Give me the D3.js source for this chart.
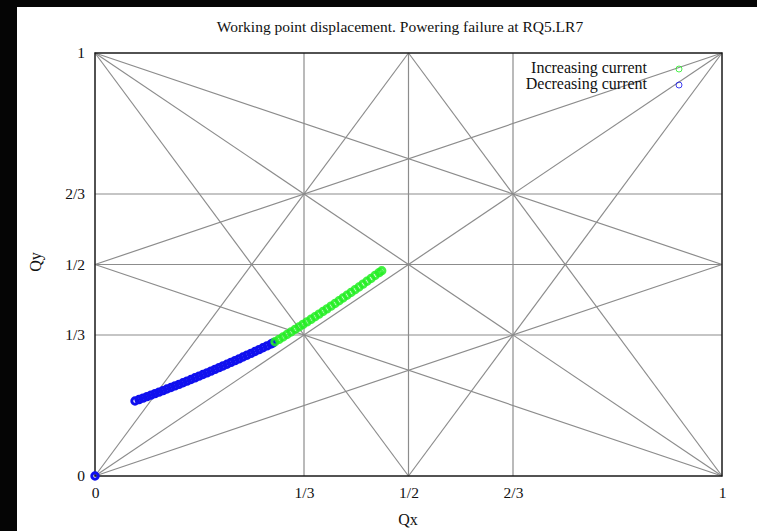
<!DOCTYPE html>
<html>
<head>
<meta charset="utf-8">
<script src="https://cdn.jsdelivr.net/npm/d3@7"></script>
<style>
  html, body { margin: 0; padding: 0; background: #fff; }
  svg { display: block; font-family: "Liberation Serif", "DejaVu Serif", serif; }
</style>
</head>
<body>
<svg id="chart" width="757" height="531"></svg>
<script>
// Tune-diagram ticks
const tickValues = [0, 1/3, 1/2, 2/3, 1];
const tickLabels = ["0", "1/3", "1/2", "2/3", "1"];

// Resonance lines m*Qx + n*Qy = p (orders 2 and 3)
const resM = [2, 0, 1, 1, 3, 3, 0, 0, 2, 2, 1, 1, 2, 2, 1, 1];
const resN = [0, 2, 1, -1, 0, 0, 3, 3, 1, 1, 2, 2, -1, -1, -2, -2];
const resP = [1, 1, 1, 0, 1, 2, 1, 2, 1, 2, 1, 2, 0, 1, 0, -1];

// Decreasing current: working point positions
const decQx = [0,
  0.0638, 0.0702, 0.0766, 0.0829, 0.0893, 0.0957, 0.1021, 0.1085, 0.1148, 0.1212,
  0.1276, 0.1340, 0.1404, 0.1467, 0.1531, 0.1595, 0.1659, 0.1722, 0.1786, 0.1850,
  0.1914, 0.1978, 0.2041, 0.2105, 0.2169, 0.2233, 0.2297, 0.2360, 0.2424, 0.2488,
  0.2552, 0.2616, 0.2679, 0.2743, 0.2807, 0.2839];
const decQy = [0,
  0.1773, 0.1807, 0.1842, 0.1877, 0.1912, 0.1947, 0.1983, 0.2019, 0.2056, 0.2093,
  0.2130, 0.2167, 0.2205, 0.2244, 0.2282, 0.2321, 0.2360, 0.2400, 0.2439, 0.2479,
  0.2520, 0.2561, 0.2602, 0.2643, 0.2685, 0.2727, 0.2770, 0.2813, 0.2856, 0.2899,
  0.2943, 0.2987, 0.3031, 0.3076, 0.3121, 0.3144];

// Increasing current: working point positions
const incQx = [
  0.2871, 0.2935, 0.2998, 0.3062, 0.3126, 0.3190, 0.3254, 0.3317, 0.3381, 0.3445,
  0.3509, 0.3573, 0.3636, 0.3700, 0.3764, 0.3828, 0.3892, 0.3955, 0.4019, 0.4083,
  0.4147, 0.4211, 0.4274, 0.4338, 0.4402, 0.4466, 0.4530, 0.4573];
const incQy = [
  0.3173, 0.3230, 0.3287, 0.3346, 0.3404, 0.3463, 0.3522, 0.3583, 0.3643, 0.3704,
  0.3765, 0.3827, 0.3889, 0.3952, 0.4015, 0.4078, 0.4142, 0.4207, 0.4272, 0.4337,
  0.4403, 0.4469, 0.4536, 0.4603, 0.4670, 0.4739, 0.4807, 0.4853];

const seriesNames = ["Increasing current", "Decreasing current"];
const seriesColors = ["#22ee22", "#1010ee"];

const svg = d3.select("#chart");
const W = 757, H = 531;
const x = d3.scaleLinear().domain([0, 1]).range([95, 722]);
const y = d3.scaleLinear().domain([0, 1]).range([476, 53]);

svg.append("rect").attr("width", W).attr("height", H).attr("fill", "#fff");
// dark page edges
svg.append("rect").attr("x", 0).attr("y", 0).attr("width", 17).attr("height", H).attr("fill", "#050505");
svg.append("rect").attr("x", 0).attr("y", 0).attr("width", W).attr("height", 7).attr("fill", "#050505");

// Clip a resonance line to the unit square
function segment(m, n, p) {
  const pts = [];
  const add = (a, b) => {
    if (a >= -1e-9 && a <= 1 + 1e-9 && b >= -1e-9 && b <= 1 + 1e-9) {
      if (!pts.some(q => Math.abs(q[0] - a) < 1e-9 && Math.abs(q[1] - b) < 1e-9)) pts.push([a, b]);
    }
  };
  if (n !== 0) { add(0, p / n); add(1, (p - m) / n); }
  if (m !== 0) { add(p / m, 0); add((p - n) / m, 1); }
  return pts.length >= 2 ? [pts[0], pts[1]] : null;
}

const lines = resM.map((m, i) => segment(m, resN[i], resP[i])).filter(s => s);
svg.append("g").selectAll("line").data(lines).join("line")
  .attr("x1", d => x(d[0][0])).attr("y1", d => y(d[0][1]))
  .attr("x2", d => x(d[1][0])).attr("y2", d => y(d[1][1]))
  .attr("stroke", "#8c8c8c").attr("stroke-width", 1.2);

// Frame
svg.append("rect")
  .attr("x", x(0)).attr("y", y(1))
  .attr("width", x(1) - x(0)).attr("height", y(0) - y(1))
  .attr("fill", "none").attr("stroke", "#1a1a1a").attr("stroke-width", 1.5);

// Axes
const fmt = (d) => tickLabels[tickValues.indexOf(d)];
const xAxis = svg.append("g").attr("transform", `translate(0,${y(0)})`)
  .call(d3.axisBottom(x).tickValues(tickValues).tickFormat(fmt).tickSize(0).tickPadding(11));
const yAxis = svg.append("g").attr("transform", `translate(${x(0)},0)`)
  .call(d3.axisLeft(y).tickValues(tickValues).tickFormat(fmt).tickSize(0).tickPadding(10));
[xAxis, yAxis].forEach(g => {
  g.select(".domain").remove();
  g.selectAll("text").attr("font-family", "Liberation Serif, serif").attr("font-size", 15.5).attr("fill", "#111");
});

// Data points
const decData = decQx.map((v, i) => [v, decQy[i]]);
const incData = incQx.map((v, i) => [v, incQy[i]]);
svg.append("g").selectAll("circle").data(decData).join("circle")
  .attr("cx", d => x(d[0])).attr("cy", d => y(d[1])).attr("r", 3.2)
  .attr("fill", "none").attr("stroke", seriesColors[1]).attr("stroke-width", 3);
svg.append("g").selectAll("circle").data(incData).join("circle")
  .attr("cx", d => x(d[0])).attr("cy", d => y(d[1])).attr("r", 3.2)
  .attr("fill", "none").attr("stroke", seriesColors[0]).attr("stroke-width", 3)
  .attr("stroke-opacity", 0.85);

// Title and axis labels
svg.append("text").attr("x", 400).attr("y", 32).attr("text-anchor", "middle")
  .attr("font-size", 15.5).attr("fill", "#111")
  .text("Working point displacement. Powering failure at RQ5.LR7");
svg.append("text").attr("x", 408).attr("y", 525).attr("text-anchor", "middle")
  .attr("font-size", 16).attr("fill", "#111").text("Qx");
svg.append("text").attr("transform", "translate(41,262) rotate(-90)").attr("text-anchor", "middle")
  .attr("font-size", 16).attr("fill", "#111").text("Qy");

// Legend
const legend = svg.append("g");
seriesNames.forEach((name, i) => {
  const ly = 69 + i * 16;
  legend.append("text").attr("x", 647).attr("y", ly + 4).attr("text-anchor", "end")
    .attr("font-size", 16).attr("fill", "#111").text(name);
  legend.append("circle").attr("cx", 679).attr("cy", ly).attr("r", 3)
    .attr("fill", "none").attr("stroke", seriesColors[i]).attr("stroke-width", 1).attr("stroke-opacity", 0.8);
});
</script>
</body>
</html>
